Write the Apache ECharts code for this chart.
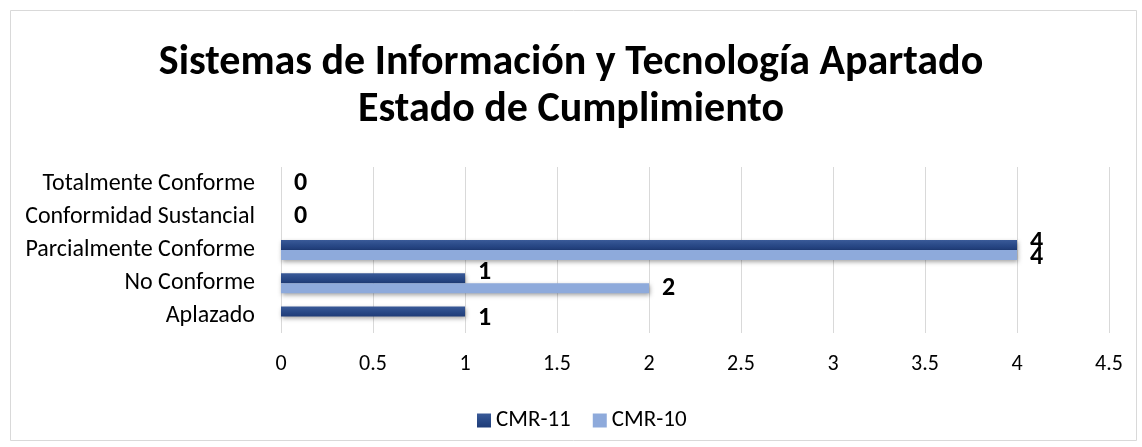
<!DOCTYPE html>
<html>
<head>
<meta charset="utf-8">
<script src="https://cdn.jsdelivr.net/npm/echarts@6/dist/echarts.min.js"></script>
<style>
html,body{margin:0;padding:0;background:#fff;}
#c{width:1142px;height:447px;}
</style>
</head>
<body>
<div id="c"></div>
<script>
const titleText = 'Sistemas de Información y Tecnología Apartado\nEstado de Cumplimiento';
const categories = ['Aplazado', 'No Conforme', 'Parcialmente Conforme', 'Conformidad Sustancial', 'Totalmente Conforme'];
const seriesNames = ['CMR-11', 'CMR-10'];
const cmr11 = [1, 1, 4, 0, 0];
const cmr10 = [null, 2, 4, null, null];
const xTicks = [0, 0.5, 1, 1.5, 2, 2.5, 3, 3.5, 4, 4.5];
// label vertical nudges (styling only, mirrors Excel label placement)
const cmr11LabelDy = [7, -6, -3, 5, 5];
const cmr10LabelDy = [0, 0, 3, 0, 0];

const chart = echarts.init(document.getElementById('c'));
const fontFam = 'Carlito, "Open Sans", "Liberation Sans", sans-serif';
const labelStyle = {
  show: true, position: 'right', distance: 13,
  color: '#000', fontWeight: 'bold', fontSize: 26, fontFamily: fontFam
};
const withDy = (vals, dys) => vals.map((v, i) => ({ value: v, label: { offset: [0, dys[i]] } }));

chart.setOption({
  animation: false,
  backgroundColor: '#fff',
  graphic: [{
    type: 'rect', left: 8, top: 8,
    shape: { width: 1126, height: 430 },
    style: { fill: 'none', stroke: '#d9d9d9', lineWidth: 1 }
  }],
  title: {
    text: titleText, left: 'center', top: 35,
    textStyle: { fontSize: 42, fontWeight: 'bold', color: '#000', fontFamily: fontFam, lineHeight: 47 }
  },
  legend: {
    data: seriesNames, top: 404, left: 472,
    itemWidth: 14, itemHeight: 14, itemGap: 22,
    icon: 'rect',
    textStyle: { fontSize: 23, color: '#000', fontFamily: fontFam }
  },
  grid: { left: 281, right: 33, top: 167, bottom: 114, containLabel: false },
  xAxis: {
    type: 'value', min: 0, max: 4.5, interval: 0.5,
    axisLine: { show: false }, axisTick: { show: false },
    splitLine: { show: true, lineStyle: { color: '#d9d9d9', width: 1 } },
    axisLabel: {
      fontSize: 22, color: '#000', fontFamily: fontFam, margin: 20,
      formatter: v => xTicks.includes(v) ? String(v) : ''
    }
  },
  yAxis: {
    type: 'category', data: categories,
    axisLine: { show: false }, axisTick: { show: false },
    axisLabel: { fontSize: 24, color: '#000', fontFamily: fontFam, margin: 26 }
  },
  series: [
    {
      name: seriesNames[0], type: 'bar', data: withDy(cmr11, cmr11LabelDy),
      barGap: '0%', barCategoryGap: '40%',
      itemStyle: {
        color: new echarts.graphic.LinearGradient(0, 0, 0, 1, [
          { offset: 0, color: '#3a5a98' }, { offset: 0.5, color: '#2a4a88' }, { offset: 1, color: '#1f3c78' }
        ]),
        shadowColor: 'rgba(0,0,0,0.35)', shadowBlur: 4, shadowOffsetY: 2, shadowOffsetX: 1
      },
      label: labelStyle
    },
    {
      name: seriesNames[1], type: 'bar', data: withDy(cmr10, cmr10LabelDy),
      itemStyle: {
        color: '#8eaadb',
        shadowColor: 'rgba(0,0,0,0.35)', shadowBlur: 4, shadowOffsetY: 2, shadowOffsetX: 1
      },
      label: labelStyle
    }
  ]
});
</script>
</body>
</html>
